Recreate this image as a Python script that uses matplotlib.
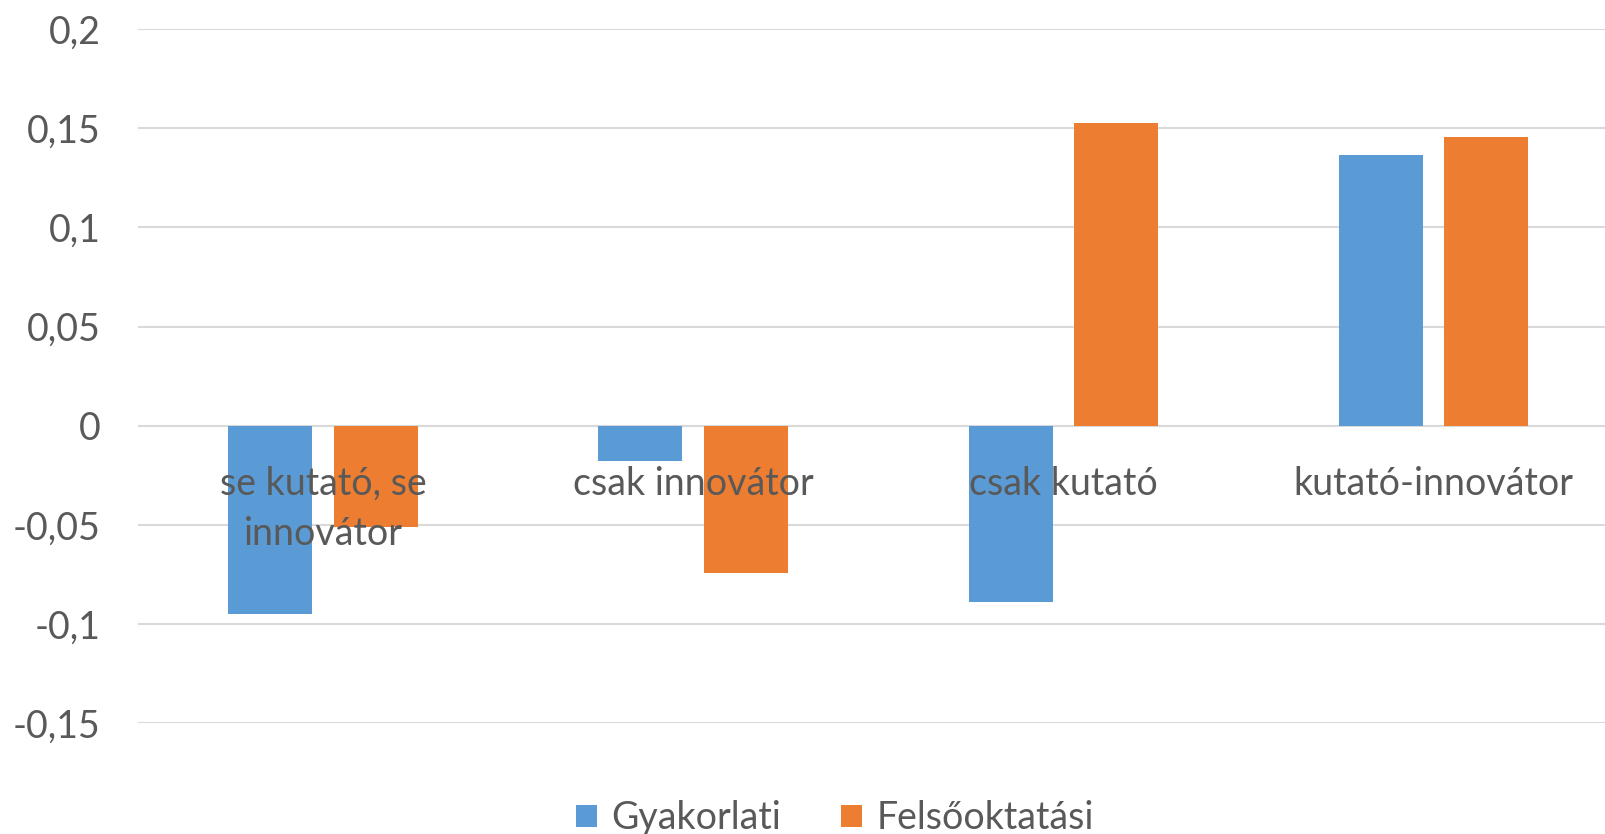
import matplotlib
matplotlib.use("Agg")
import matplotlib.pyplot as plt
import numpy as np

# data
categories = ["se kutató, se\ninnovátor", "csak innovátor", "csak kutató", "kutató-innovátor"]
gyakorlati = [-0.095, -0.018, -0.0887, 0.1363]
felsooktatasi = [-0.0513, -0.0744, 0.1525, 0.1455]
series_names = ["Gyakorlati", "Felsőoktatási"]
yticks = [-0.15, -0.1, -0.05, 0, 0.05, 0.1, 0.15, 0.2]

blue = "#5b9bd5"
orange = "#ed7d31"
grey = "#595959"

plt.rcParams["font.family"] = ["Lato", "DejaVu Sans"]

fig = plt.figure(figsize=(16.06, 8.34), dpi=100)
# plot area runs a little past the right edge, as in the original
ax = fig.add_axes([0.0859, 0.133, 0.922, 0.832])

x = np.arange(len(categories))
w = 0.227
off = 0.1425
ax.bar(x - off, gyakorlati, w, color=blue, label=series_names[0], zorder=2)
ax.bar(x + off, felsooktatasi, w, color=orange, label=series_names[1], zorder=2)

ax.set_xlim(-0.5, len(categories) - 0.5)
ax.set_ylim(-0.15, 0.2)
ax.set_yticks(yticks)
ax.set_yticklabels([("%g" % t).replace(".", ",") for t in yticks])
ax.tick_params(axis="y", length=0, pad=27, labelsize=27, labelcolor=grey)
ax.set_xticks([])
ax.grid(axis="y", color="#d9d9d9", linewidth=1.5, zorder=0)
for s in ax.spines.values():
    s.set_visible(False)

# category labels sit just under the zero line, on top of the bars
for i, c in enumerate(categories):
    ax.annotate(c, xy=(i, 0), xytext=(0, -40), textcoords="offset pixels",
                ha="center", va="top", fontsize=27, color=grey,
                linespacing=1.5, zorder=5)

fig.legend(loc="lower center", bbox_to_anchor=(0.52, -0.043), ncol=2,
           frameon=False, fontsize=27, labelcolor=grey,
           handlelength=0.55, handleheight=0.55, handletextpad=0.4,
           columnspacing=1.6)

fig.savefig("out.png", dpi=100)
